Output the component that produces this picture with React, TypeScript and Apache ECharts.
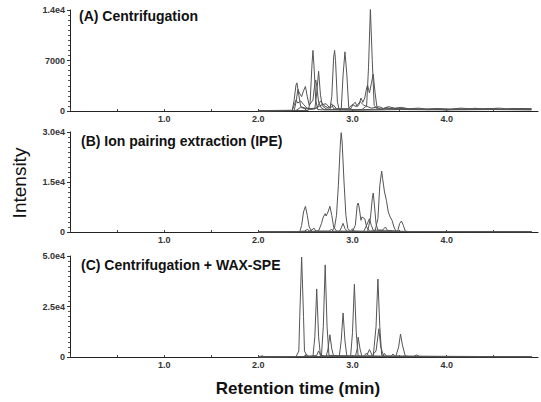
import React, { useEffect, useRef } from 'react';
import * as echarts from 'echarts';

type Pt = [number, number];

const panelTitles = ['(A) Centrifugation', '(B) Ion pairing extraction (IPE)', '(C) Centrifugation + WAX-SPE'];
const xTickLabels = ['1.0', '2.0', '3.0', '4.0'];
const yMaxes = [14000, 30000, 50000];
const ySteps = [7000, 15000, 25000];
const yAxisTitle = 'Intensity';
const xAxisTitle = 'Retention time (min)';

// Panel A traces
const traceA1: Pt[] = [[2.0,0],[2.3,60],[2.53,80],[2.55,1200],[2.57,6500],[2.58,8400],[2.59,6500],[2.61,1500],[2.63,200],[2.7,150],[3.1,200],[3.15,700],[3.17,6000],[3.19,14200],[3.21,7000],[3.23,800],[3.26,300],[3.3,200],[3.36,450],[3.42,300],[3.5,380],[3.6,220],[3.7,300],[3.8,180],[3.9,250],[4.0,150],[4.1,300],[4.2,200],[4.3,380],[4.4,220],[4.5,300],[4.6,200],[4.7,350],[4.8,250],[4.9,300]];
const traceA2: Pt[] = [[2.0,0],[2.36,50],[2.38,1500],[2.40,3600],[2.41,3900],[2.43,2200],[2.45,600],[2.55,200],[2.60,300],[2.62,2500],[2.64,5500],[2.66,2200],[2.68,700],[2.72,300],[2.76,200],[2.78,2000],[2.80,7500],[2.81,8400],[2.82,7000],[2.84,1200],[2.86,150],[3.0,100],[3.3,150],[3.5,200],[4.0,150],[4.5,200],[4.9,150]];
const traceA3: Pt[] = [[2.0,0],[2.38,50],[2.40,1200],[2.42,3000],[2.44,2400],[2.46,2000],[2.48,2800],[2.50,3400],[2.52,2000],[2.54,800],[2.58,1500],[2.60,3800],[2.61,4300],[2.62,3500],[2.64,1200],[2.67,400],[2.70,200],[2.88,150],[2.90,5000],[2.92,8200],[2.94,5000],[2.96,500],[3.0,150],[3.4,300],[3.6,200],[4.0,250],[4.9,200]];
const traceA4: Pt[] = [[2.0,0],[2.40,80],[2.45,500],[2.5,300],[2.62,400],[2.66,1400],[2.70,700],[2.75,400],[2.78,1000],[2.8,300],[2.98,300],[3.01,1000],[3.03,1200],[3.05,600],[3.07,900],[3.09,1800],[3.11,1200],[3.13,1800],[3.15,3200],[3.16,3600],[3.18,2500],[3.20,3800],[3.22,5100],[3.24,2500],[3.26,500],[3.30,250],[3.36,400],[3.44,250],[3.55,350],[3.7,200],[3.85,300],[4.0,200],[4.2,250],[4.45,350],[4.6,200],[4.75,300],[4.9,250]];
const traceA5: Pt[] = [[2.0,50],[2.2,80],[2.36,100],[2.38,800],[2.40,1500],[2.42,1100],[2.45,1400],[2.48,900],[2.52,400],[2.6,300],[2.68,900],[2.72,1000],[2.76,400],[2.8,800],[2.83,300],[2.95,300],[3.0,900],[3.04,600],[3.08,1300],[3.12,800],[3.2,400],[3.28,600],[3.33,350],[3.38,600],[3.45,400],[3.52,500],[3.6,300],[3.7,400],[3.8,250],[3.9,350],[4.05,250],[4.15,400],[4.25,300],[4.4,250],[4.55,400],[4.65,300],[4.8,350],[4.9,300]];

// Panel B traces
const traceB1: Pt[] = [[2.0,0],[2.78,100],[2.81,1500],[2.83,5000],[2.85,14000],[2.87,26000],[2.88,29800],[2.89,27000],[2.91,15000],[2.93,5000],[2.95,1000],[2.98,200],[3.2,150],[4.9,100]];
const traceB2: Pt[] = [[2.0,0],[2.44,100],[2.46,2000],[2.48,6000],[2.50,7700],[2.52,5000],[2.54,1500],[2.57,200],[2.64,300],[2.67,2500],[2.69,4500],[2.71,5500],[2.72,4800],[2.74,6000],[2.76,7700],[2.78,5000],[2.80,1500],[2.83,300],[2.9,100],[4.9,50]];
const traceB3: Pt[] = [[2.0,0],[3.0,100],[3.03,2000],[3.05,8000],[3.06,8700],[3.07,7500],[3.09,3500],[3.10,4500],[3.12,4200],[3.13,4000],[3.15,1500],[3.18,300],[3.24,400],[3.27,4000],[3.29,14000],[3.31,18300],[3.32,16000],[3.34,12000],[3.36,9500],[3.38,6000],[3.40,4500],[3.42,3500],[3.44,1500],[3.46,300],[3.6,100],[4.9,50]];
const traceB4: Pt[] = [[2.0,0],[2.86,100],[2.88,1200],[2.90,2600],[2.92,1000],[2.95,100],[3.16,200],[3.19,4000],[3.21,10000],[3.22,11700],[3.23,9000],[3.25,2500],[3.27,500],[3.48,200],[3.50,2500],[3.52,3300],[3.54,2000],[3.56,300],[3.6,100],[4.9,50]];
const traceB5: Pt[] = [[2.0,50],[2.4,80],[2.50,300],[2.52,900],[2.54,300],[2.57,600],[2.59,1200],[2.61,300],[2.75,300],[2.78,800],[2.80,200],[2.98,300],[3.00,1000],[3.02,300],[3.12,200],[3.15,2000],[3.18,4000],[3.20,2000],[3.22,500],[3.32,600],[3.35,1500],[3.37,500],[3.5,150],[3.8,100],[4.2,120],[4.6,100],[4.9,80]];

// Panel C traces
const traceC1: Pt[] = [[2.0,0],[2.40,100],[2.43,3000],[2.44,20000],[2.46,49500],[2.48,20000],[2.49,3000],[2.52,300],[2.56,500],[2.60,200],[4.9,100]];
const traceC2: Pt[] = [[2.0,0],[2.58,200],[2.60,10000],[2.62,33700],[2.64,10000],[2.66,500],[2.98,300],[3.00,12000],[3.02,36000],[3.04,12000],[3.06,500],[3.1,200],[4.9,100]];
const traceC3: Pt[] = [[2.0,0],[2.67,300],[2.69,15000],[2.71,45600],[2.73,15000],[2.75,800],[3.22,300],[3.25,15000],[3.27,38600],[3.29,15000],[3.31,800],[3.35,200],[4.9,100]];
const traceC4: Pt[] = [[2.0,0],[2.72,200],[2.74,4000],[2.76,11000],[2.78,4000],[2.80,300],[2.86,300],[2.88,8000],[2.90,21800],[2.92,8000],[2.94,300],[3.46,300],[3.49,5000],[3.51,11400],[3.53,6000],[3.56,500],[3.6,200],[4.9,100]];
const traceC5: Pt[] = [[2.0,0],[3.03,200],[3.05,4000],[3.06,9800],[3.08,4000],[3.10,300],[3.15,500],[3.18,3700],[3.21,800],[3.25,3000],[3.28,14000],[3.30,5000],[3.33,500],[4.9,100]];
const traceC6: Pt[] = [[2.0,0],[2.02,300],[2.04,600],[2.06,200],[2.3,150],[2.48,200],[2.51,1200],[2.54,300],[2.62,800],[2.64,3000],[2.66,1000],[2.70,500],[3.12,400],[3.15,2000],[3.17,600],[3.32,400],[3.34,1800],[3.36,400],[3.41,400],[3.43,1500],[3.45,400],[3.65,300],[3.68,1000],[3.71,300],[3.9,200],[4.3,150],[4.7,200],[4.9,150]];

const panels: Pt[][][] = [
  [traceA1, traceA2, traceA3, traceA4, traceA5],
  [traceB1, traceB2, traceB3, traceB4, traceB5],
  [traceC1, traceC2, traceC3, traceC4, traceC5, traceC6],
];

const FONT = 'Arial';
const gridBoxes = [
  { top: 10, height: 101 },
  { top: 132, height: 100 },
  { top: 256, height: 101 },
];
const titleY = [16, 141, 265];

function yFmt(v: number): string {
  if (v === 0) return '0';
  if (v < 10000) return String(v);
  return (v / 10000).toFixed(1) + 'e4';
}

function xFmt(v: number): string {
  const s = v.toFixed(1);
  if (Math.abs(v - Math.round(v)) > 1e-6) return '';
  return xTickLabels.includes(s) ? s : '';
}

export default function App() {
  const ref = useRef<HTMLDivElement>(null);
  useEffect(() => {
    if (!ref.current) return;
    const chart = echarts.init(ref.current, undefined, { renderer: 'svg' });
    const grid = gridBoxes.map((g) => ({ left: 70, width: 468, top: g.top, height: g.height, containLabel: false }));
    const xAxis = gridBoxes.map((_, i) => ({
      type: 'value',
      gridIndex: i,
      min: 0,
      max: 4.97,
      interval: 0.5,
      axisLine: { show: true, lineStyle: { color: '#222', width: 1 } },
      axisTick: { show: true, inside: true, length: 2, lineStyle: { color: '#444' } },
      axisLabel: { show: true, formatter: xFmt, fontSize: 9, fontWeight: 'bold', color: '#333', fontFamily: FONT, margin: 3, showMaxLabel: false },
      splitLine: { show: false },
    }));
    const yAxis = gridBoxes.map((_, i) => ({
      type: 'value',
      gridIndex: i,
      min: 0,
      max: yMaxes[i],
      interval: ySteps[i],
      axisLine: { show: true, lineStyle: { color: '#222', width: 1 } },
      axisTick: { show: true, length: 3, lineStyle: { color: '#333' } },
      minorTick: { show: true, splitNumber: 10, length: 2, lineStyle: { color: '#555' } },
      axisLabel: { formatter: yFmt, fontSize: 9, fontWeight: 'bold', color: '#333', fontFamily: FONT, margin: 5 },
      splitLine: { show: false },
    }));
    const series: any[] = [];
    panels.forEach((traces, i) => {
      traces.forEach((tr) => {
        series.push({
          type: 'line',
          xAxisIndex: i,
          yAxisIndex: i,
          data: tr,
          showSymbol: false,
          symbol: 'none',
          lineStyle: { color: '#555', width: 1 },
          silent: true,
        });
      });
    });
    const graphic: any[] = panelTitles.map((t, i) => ({
      type: 'text',
      x: i === 0 ? 79 : 81,
      y: titleY[i],
      style: { text: t, fontSize: 14, fontWeight: 'bold', fontFamily: FONT, fill: '#111', align: 'left', verticalAlign: 'middle' },
    }));
    graphic.push({
      type: 'text',
      x: 19,
      y: 183,
      rotation: Math.PI / 2,
      style: { text: yAxisTitle, fontSize: 19, fontFamily: FONT, fill: '#111', align: 'center', verticalAlign: 'middle' },
    });
    graphic.push({
      type: 'text',
      x: 298,
      y: 388,
      style: { text: xAxisTitle, fontSize: 17, fontWeight: 'bold', fontFamily: FONT, fill: '#111', align: 'center', verticalAlign: 'middle' },
    });
    chart.setOption({
      animation: false,
      backgroundColor: '#fff',
      grid,
      xAxis,
      yAxis,
      series,
      graphic,
    } as any);
    return () => chart.dispose();
  }, []);
  return <div ref={ref} style={{ position: 'absolute', left: 0, top: 0, width: 541, height: 402 }} />;
}
